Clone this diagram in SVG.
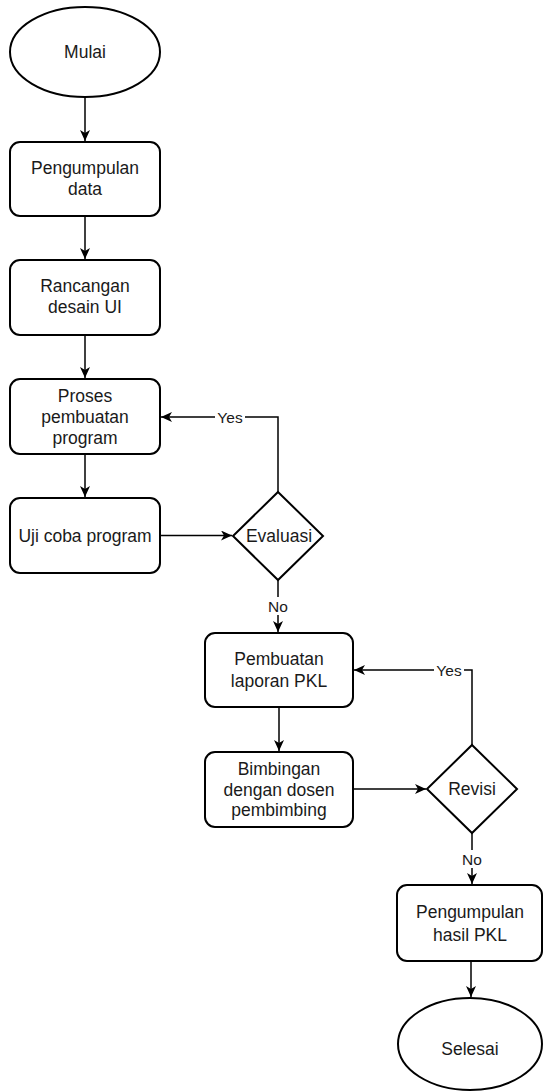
<svg xmlns="http://www.w3.org/2000/svg" width="543" height="1092" viewBox="0 0 543 1092">
<style>
.n{fill:#fff;stroke:#000;stroke-width:2}
.t{font-family:"Liberation Sans",Arial,sans-serif;font-size:17.5px;fill:#1a1a1a;text-anchor:middle}
.l{font-family:"Liberation Sans",Arial,sans-serif;font-size:15.5px;fill:#1a1a1a;text-anchor:middle}
.c{fill:none;stroke:#000;stroke-width:1.5}
.bg{fill:#fff}
</style>
<defs>
<marker id="a" markerWidth="12" markerHeight="10" refX="11" refY="5" orient="auto" markerUnits="userSpaceOnUse">
<path d="M0,0 L11,5 L0,10 L3,5 z" fill="#000"/>
</marker>
</defs>
<rect width="543" height="1092" fill="#fff"/>
<g id="connectors">
<path class="c" d="M85,97 V141" marker-end="url(#a)"/>
<path class="c" d="M85,216 V259" marker-end="url(#a)"/>
<path class="c" d="M85,335 V378" marker-end="url(#a)"/>
<path class="c" d="M85,454 V497" marker-end="url(#a)"/>
<path class="c" d="M160,535.5 H232" marker-end="url(#a)"/>
<path class="c" d="M278,492 V417 H161" marker-end="url(#a)"/>
<path class="c" d="M278,580 V632" marker-end="url(#a)"/>
<path class="c" d="M279,707 V751" marker-end="url(#a)"/>
<path class="c" d="M353,789 H426" marker-end="url(#a)"/>
<path class="c" d="M472,745 V670 H354" marker-end="url(#a)"/>
<path class="c" d="M472,833 V884" marker-end="url(#a)"/>
<path class="c" d="M471,961 V997" marker-end="url(#a)"/>
<rect class="bg" x="215" y="408" width="30" height="18"/>
<text class="l" x="230" y="423">Yes</text>
<rect class="bg" x="434" y="661" width="30" height="18"/>
<text class="l" x="449" y="676">Yes</text>
<rect class="bg" x="267" y="597" width="23" height="18"/>
<text class="l" x="278" y="612">No</text>
<rect class="bg" x="461" y="850" width="23" height="18"/>
<text class="l" x="472" y="865">No</text>
</g>
<g id="mulai">
<ellipse class="n" cx="85" cy="52" rx="75" ry="45"/>
<text class="t" x="85" y="58">Mulai</text>
</g>
<g id="pengumpulan-data">
<rect class="n" x="10" y="142" width="150" height="74" rx="10"/>
<text class="t" x="85" y="174">Pengumpulan</text>
<text class="t" x="85" y="195">data</text>
</g>
<g id="rancangan">
<rect class="n" x="10" y="260" width="150" height="75" rx="10"/>
<text class="t" x="85" y="292">Rancangan</text>
<text class="t" x="85" y="313">desain UI</text>
</g>
<g id="proses">
<rect class="n" x="10" y="379" width="150" height="75" rx="10"/>
<text class="t" x="85" y="402">Proses</text>
<text class="t" x="85" y="423">pembuatan</text>
<text class="t" x="85" y="444">program</text>
</g>
<g id="uji">
<rect class="n" x="10" y="498" width="150" height="75" rx="10"/>
<text class="t" x="85" y="542">Uji coba program</text>
</g>
<g id="evaluasi">
<polygon class="n" points="278,492 323,536 278,580 233,536"/>
<text class="t" x="279" y="542">Evaluasi</text>
</g>
<g id="pembuatan-laporan">
<rect class="n" x="205" y="633" width="148" height="74" rx="10"/>
<text class="t" x="279" y="665">Pembuatan</text>
<text class="t" x="279" y="687">laporan PKL</text>
</g>
<g id="bimbingan">
<rect class="n" x="205" y="752" width="148" height="75" rx="10"/>
<text class="t" x="279" y="775">Bimbingan</text>
<text class="t" x="279" y="796">dengan dosen</text>
<text class="t" x="279" y="816">pembimbing</text>
</g>
<g id="revisi">
<polygon class="n" points="472,745 517,789 472,833 427,789"/>
<text class="t" x="472" y="795">Revisi</text>
</g>
<g id="pengumpulan-hasil">
<rect class="n" x="397" y="885" width="145" height="76" rx="10"/>
<text class="t" x="470" y="918">Pengumpulan</text>
<text class="t" x="470" y="941">hasil PKL</text>
</g>
<g id="selesai">
<ellipse class="n" cx="470" cy="1044" rx="72" ry="46"/>
<text class="t" x="470" y="1055">Selesai</text>
</g>
</svg>
